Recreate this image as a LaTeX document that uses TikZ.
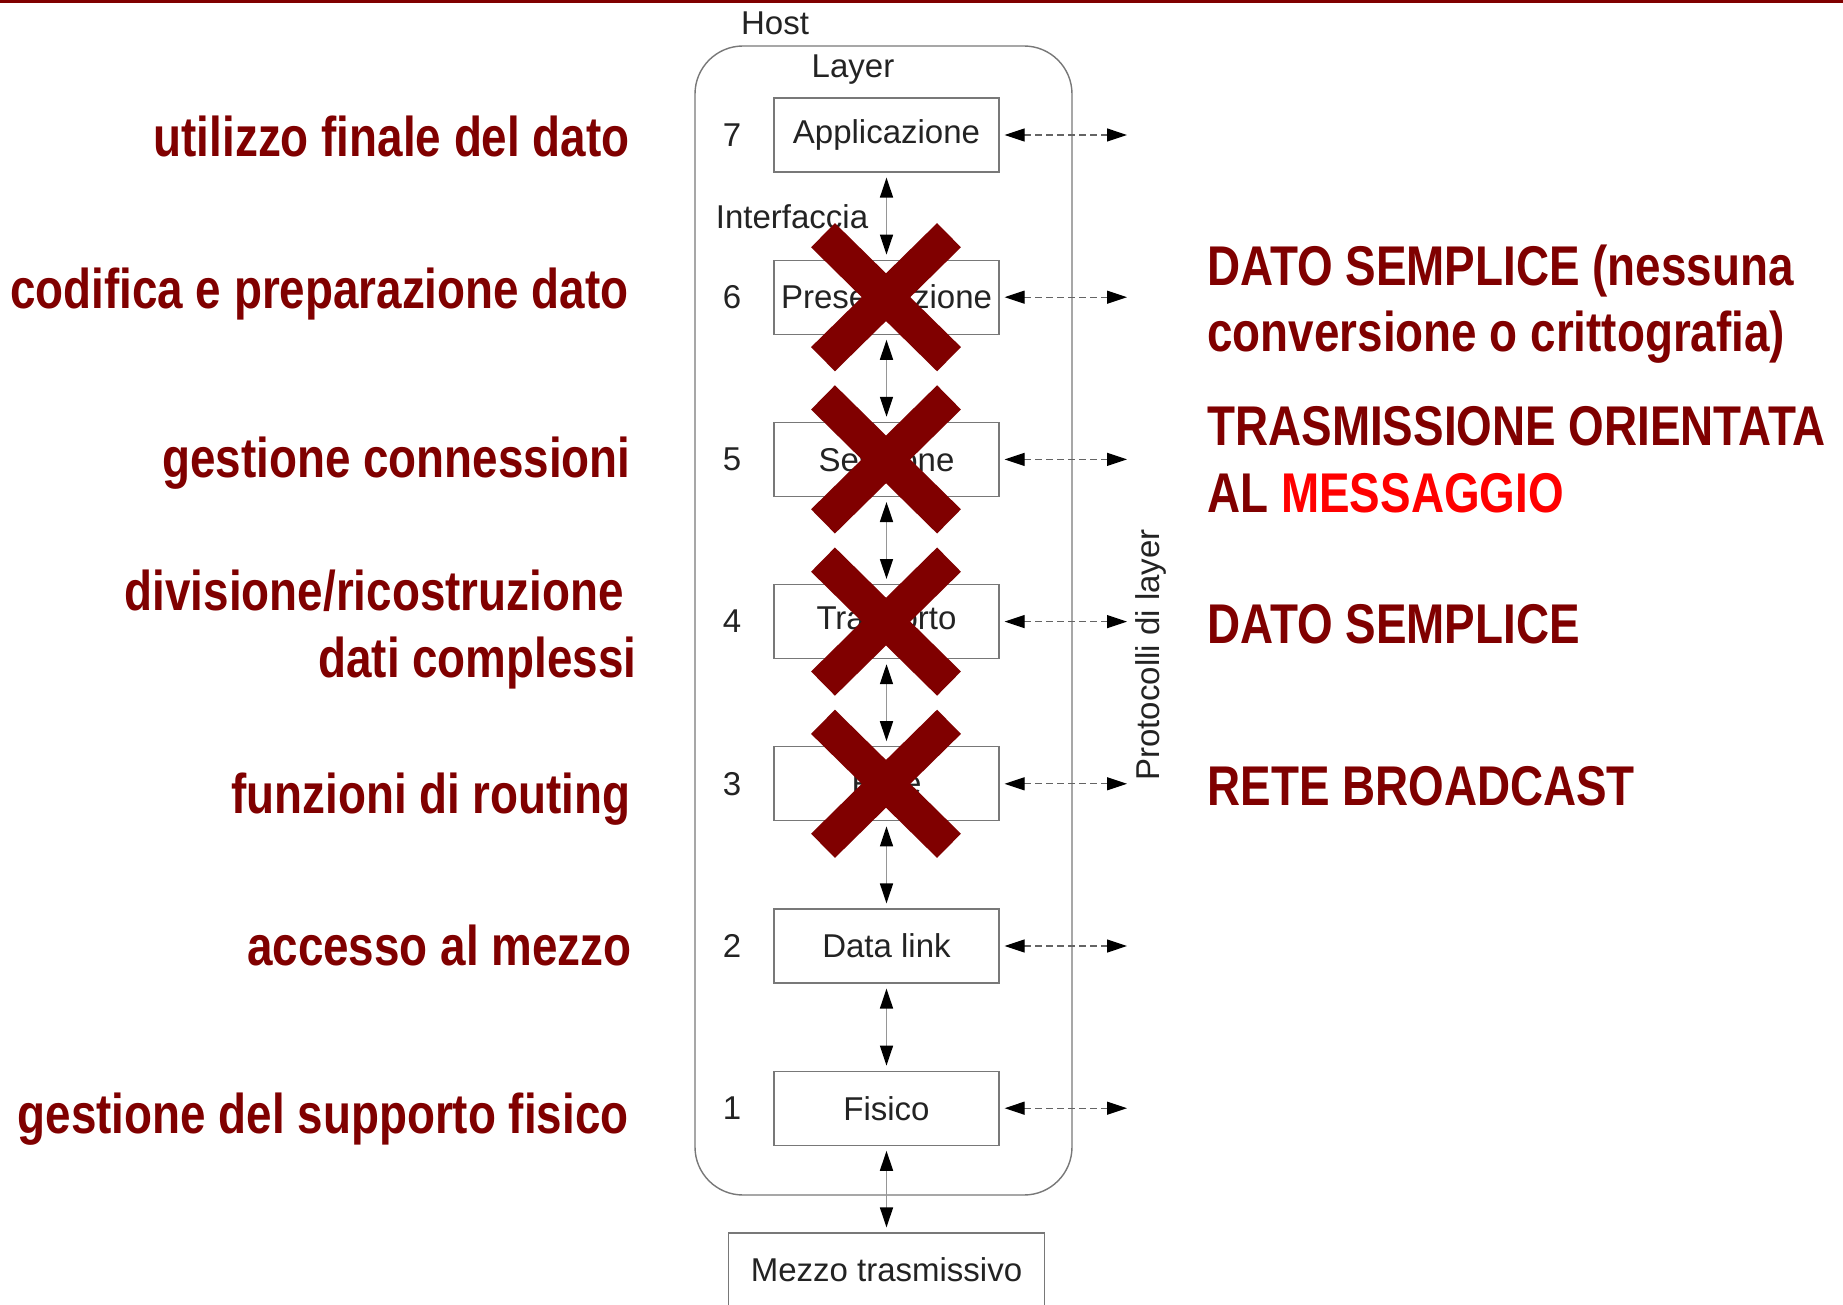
\documentclass[tikz,border=0pt]{standalone}
\usepackage{fontspec}
\setmainfont{Liberation Sans}
\newfontfamily\narrowfont[FakeStretch=0.818]{Liberation Sans}
\usetikzlibrary{arrows.meta}
\definecolor{dred}{RGB}{128,0,0}
\definecolor{bred}{RGB}{255,0,0}
\definecolor{boxgray}{RGB}{120,120,120}
\definecolor{txtgray}{RGB}{35,35,35}
\definecolor{linegray}{RGB}{150,150,150}
\definecolor{dashgray}{RGB}{100,100,100}
\tikzset{
  tipA/.tip={Triangle[length=10pt,width=6.5pt,color=black]}
}
\begin{document}
\begin{tikzpicture}[x=0.5pt,y=-0.5pt,
  lbl/.style={font=\narrowfont\bfseries\fontsize{28}{28}\selectfont, text=dred, inner sep=0pt},
  diag/.style={font=\fontsize{16.5}{16.5}\selectfont, text=txtgray, inner sep=0pt},
  layerbox/.style={draw=boxgray, line width=0.6pt, minimum width=112.5pt, minimum height=37pt, inner sep=0pt, font=\fontsize{16.5}{16.5}\selectfont, text=txtgray},
  vlink/.style={draw=linegray, line width=0.8pt, tipA-tipA, shorten <=2.5pt, shorten >=2.5pt},
  hlink/.style={draw=dashgray, line width=0.6pt, dash pattern=on 3.5pt off 2pt, tipA-tipA, shorten <=2.5pt},
  cross/.style={draw=dred, line width=17pt, line cap=butt}
]
\useasboundingbox (0,0) rectangle (1843,1305);
\fill[white] (0,0) rectangle (1843,1305);
% top rule
\draw[dred, line width=1.5pt] (0,1.5) -- (1843,1.5);

% host
\draw[boxgray, line width=0.7pt, rounded corners=24pt] (695,46) rectangle (1072,1195);
\node[diag] (host) at (775,23) {Host};
\node[diag] (layer) at (853,70) {Layer};

% layers
\node[layerbox] (l7) at (886.5,135) {Applicazione};
\node[layerbox] (l6) at (886.5,297.2) {Presentazione};
\node[layerbox] (l5) at (886.5,459.4) {Sessione};
\node[layerbox] (l4) at (886.5,621.6) {Trasporto};
\node[layerbox] (l3) at (886.5,783.8) {Rete};
\node[layerbox] (l2) at (886.5,946) {Data link};
\node[layerbox] (l1) at (886.5,1108.2) {Fisico};
\node[layerbox, minimum width=158pt] (mezzo) at (886.5,1270) {Mezzo trasmissivo};

\foreach \n/\y in {7/135,6/297.2,5/459.4,4/621.6,3/783.8,2/946,1/1108.2}{
  \node[diag] (n\n) at (732,\y) {\n};
  \coordinate (p\n) at (1127,\y);
  \draw[hlink] (l\n) -- (p\n);
}
\node[diag] (interf) at (792,217) {Interfaccia};

\draw[vlink] (l7) -- (l6);
\draw[vlink] (l6) -- (l5);
\draw[vlink] (l5) -- (l4);
\draw[vlink] (l4) -- (l3);
\draw[vlink] (l3) -- (l2);
\draw[vlink] (l2) -- (l1);
\draw[vlink] (l1) -- (mezzo);

\node[diag, rotate=90] (proto) at (1151,655) {Protocolli di layer};

% crosses
\foreach \y in {297.2,459.4,621.6,783.8}{
  \draw[cross] (823,\y-62) -- (949,\y+62);
  \draw[cross] (823,\y+62) -- (949,\y-62);
}

% left labels
\node[lbl, anchor=base east] (t7) at (630,157) {utilizzo finale del dato};
\node[lbl, anchor=base east] (t6) at (629,309) {codifica e preparazione dato};
\node[lbl, anchor=base east] (t5) at (631,477) {gestione connessioni};
\node[lbl, anchor=base east] (t4a) at (624,610) {divisione/ricostruzione};
\node[lbl, anchor=base east] (t4b) at (637,677) {dati complessi};
\node[lbl, anchor=base east] (t3) at (631,813) {funzioni di routing};
\node[lbl, anchor=base east] (t2) at (632,965) {accesso al mezzo};
\node[lbl, anchor=base east] (t1) at (629,1133) {gestione del supporto fisico};

% right labels
\node[lbl, anchor=base west] (r6a) at (1207,286) {DATO SEMPLICE (nessuna};
\node[lbl, anchor=base west] (r6b) at (1207,351) {conversione o crittografia)};
\node[lbl, anchor=base west] (r5a) at (1207,445) {TRASMISSIONE ORIENTATA};
\node[lbl, anchor=base west] (r5b) at (1207,512) {AL \textcolor{bred}{MESSAGGIO}};
\node[lbl, anchor=base west] (r4) at (1207,643) {DATO SEMPLICE};
\node[lbl, anchor=base west] (r3) at (1207,805) {RETE BROADCAST};
\end{tikzpicture}
\end{document}
